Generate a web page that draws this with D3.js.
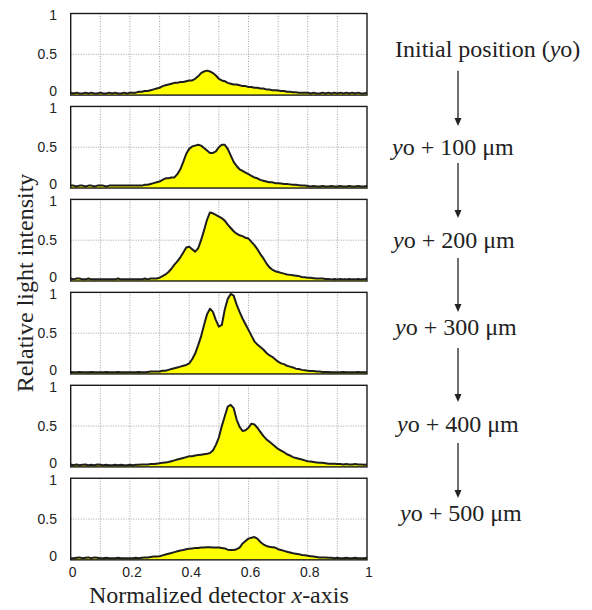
<!DOCTYPE html>
<html>
<head>
<meta charset="utf-8">
<script src="https://cdn.jsdelivr.net/npm/d3@7"></script>
<style>
  html, body { margin: 0; padding: 0; background: #fff; }
  svg { display: block; }
  .serif { font-family: "Liberation Serif", "DejaVu Serif", "Times New Roman", serif; }
  .sans { font-family: "Liberation Sans", Arial, Helvetica, sans-serif; }
</style>
</head>
<body>
<div id="chart"></div>
<script>
// ---------- data ----------
const panelLabels = ["Initial position", "yo + 100 μm", "yo + 200 μm", "yo + 300 μm", "yo + 400 μm", "yo + 500 μm"];
const xTickLabels = [0, 0.2, 0.4, 0.6, 0.8, 1];
const yTickLabels = [0, 0.5, 1];
const xGridValues = [0.1, 0.2, 0.3, 0.4, 0.5, 0.6, 0.7, 0.8, 0.9];
const xSamples = d3.range(0, 101).map(i => i / 100);

const intensity0 = [
  0.03,0.02,0.03,0.02,0.02,0.03,0.02,0.03,0.02,0.02,
  0.03,0.02,0.02,0.03,0.02,0.03,0.02,0.02,0.03,0.02,
  0.03,0.03,0.03,0.04,0.04,0.05,0.05,0.06,0.07,0.08,
  0.09,0.11,0.12,0.13,0.14,0.15,0.15,0.16,0.16,0.17,
  0.18,0.18,0.20,0.23,0.27,0.29,0.30,0.29,0.27,0.24,
  0.20,0.18,0.17,0.15,0.14,0.13,0.13,0.12,0.11,0.11,
  0.10,0.10,0.09,0.09,0.08,0.08,0.07,0.07,0.06,0.06,
  0.055,0.05,0.05,0.04,0.04,0.035,0.035,0.03,0.03,0.03,
  0.03,0.02,0.03,0.02,0.02,0.03,0.02,0.03,0.02,0.03,
  0.02,0.03,0.02,0.03,0.02,0.03,0.02,0.03,0.02,0.02,0.03
];
const intensity100 = [
  0.03,0.03,0.02,0.03,0.03,0.02,0.03,0.03,0.02,0.03,
  0.03,0.03,0.02,0.03,0.03,0.03,0.03,0.03,0.03,0.03,
  0.03,0.03,0.03,0.03,0.03,0.04,0.04,0.05,0.06,0.07,
  0.08,0.10,0.12,0.12,0.13,0.13,0.17,0.23,0.32,0.42,
  0.48,0.51,0.52,0.53,0.52,0.49,0.46,0.43,0.43,0.45,
  0.50,0.53,0.53,0.48,0.40,0.32,0.27,0.23,0.21,0.19,
  0.17,0.15,0.13,0.12,0.10,0.09,0.08,0.07,0.07,0.06,
  0.06,0.055,0.05,0.05,0.045,0.04,0.04,0.035,0.03,0.03,
  0.025,0.02,0.025,0.02,0.02,0.025,0.02,0.02,0.025,0.02,
  0.02,0.025,0.02,0.02,0.025,0.02,0.02,0.025,0.02,0.02,0.025
];
const intensity200 = [
  0.03,0.02,0.03,0.03,0.02,0.02,0.03,0.02,0.02,0.02,
  0.02,0.02,0.02,0.02,0.02,0.02,0.03,0.02,0.02,0.02,
  0.02,0.02,0.02,0.02,0.02,0.03,0.02,0.03,0.03,0.03,
  0.04,0.06,0.08,0.11,0.15,0.20,0.24,0.29,0.35,0.41,
  0.42,0.39,0.36,0.40,0.50,0.62,0.75,0.84,0.83,0.81,
  0.79,0.77,0.74,0.69,0.65,0.61,0.58,0.56,0.55,0.53,
  0.52,0.48,0.44,0.39,0.33,0.28,0.22,0.17,0.14,0.12,
  0.11,0.10,0.09,0.08,0.075,0.07,0.065,0.06,0.05,0.045,
  0.04,0.04,0.035,0.03,0.03,0.03,0.025,0.025,0.02,0.025,
  0.02,0.025,0.02,0.02,0.025,0.02,0.02,0.025,0.02,0.02,0.03
];
const intensity300 = [
  0.025,0.02,0.02,0.025,0.02,0.02,0.02,0.025,0.02,0.02,
  0.02,0.02,0.025,0.02,0.02,0.02,0.025,0.02,0.02,0.02,
  0.02,0.02,0.02,0.025,0.02,0.02,0.025,0.03,0.03,0.03,
  0.03,0.04,0.04,0.05,0.06,0.07,0.08,0.09,0.10,0.11,
  0.13,0.18,0.25,0.35,0.46,0.60,0.73,0.80,0.76,0.66,
  0.58,0.60,0.79,0.92,0.98,0.96,0.85,0.76,0.68,0.61,
  0.54,0.47,0.40,0.36,0.33,0.30,0.26,0.23,0.21,0.18,
  0.15,0.13,0.12,0.10,0.09,0.08,0.065,0.06,0.05,0.045,
  0.04,0.035,0.035,0.03,0.03,0.025,0.025,0.025,0.02,0.02,
  0.02,0.02,0.025,0.02,0.02,0.02,0.02,0.025,0.02,0.02,0.02
];
const intensity400 = [
  0.03,0.02,0.03,0.02,0.025,0.03,0.02,0.025,0.02,0.03,
  0.025,0.02,0.025,0.02,0.02,0.025,0.02,0.025,0.02,0.02,
  0.025,0.02,0.025,0.025,0.03,0.03,0.03,0.035,0.035,0.04,
  0.045,0.05,0.055,0.06,0.07,0.08,0.09,0.10,0.11,0.12,
  0.13,0.13,0.14,0.145,0.15,0.155,0.16,0.17,0.20,0.27,
  0.36,0.50,0.62,0.74,0.76,0.72,0.58,0.49,0.44,0.45,
  0.48,0.53,0.52,0.48,0.43,0.38,0.34,0.31,0.28,0.25,
  0.22,0.20,0.18,0.155,0.14,0.12,0.11,0.10,0.09,0.08,
  0.07,0.065,0.06,0.055,0.05,0.05,0.045,0.04,0.04,0.04,
  0.035,0.035,0.03,0.035,0.03,0.03,0.035,0.03,0.03,0.025,0.03
];
const intensity500 = [
  0.02,0.02,0.025,0.03,0.02,0.025,0.03,0.02,0.03,0.025,
  0.02,0.02,0.025,0.02,0.02,0.02,0.025,0.02,0.02,0.02,
  0.02,0.02,0.025,0.02,0.025,0.03,0.03,0.035,0.04,0.04,
  0.045,0.055,0.065,0.075,0.085,0.095,0.105,0.115,0.12,0.13,
  0.135,0.14,0.145,0.145,0.15,0.15,0.155,0.155,0.15,0.15,
  0.15,0.145,0.14,0.125,0.12,0.12,0.13,0.15,0.20,0.23,
  0.26,0.27,0.28,0.26,0.22,0.19,0.17,0.16,0.155,0.15,
  0.13,0.12,0.11,0.10,0.09,0.08,0.075,0.07,0.06,0.055,
  0.05,0.045,0.04,0.035,0.03,0.03,0.03,0.025,0.025,0.02,
  0.025,0.02,0.02,0.025,0.02,0.02,0.025,0.02,0.02,0.02,0.025
];
const seriesList = [intensity0, intensity100, intensity200, intensity300, intensity400, intensity500];

// ---------- layout ----------
const W = 592, H = 610;
const left = 70.7, right = 367;
const firstTop = 13.5, panelStep = 92.95, panelH = 81.6;

const svg = d3.select("#chart").append("svg").attr("width", W).attr("height", H);

const x = d3.scaleLinear().domain([0, 1]).range([left, right]);

seriesList.forEach((vals, i) => {
  const top = firstTop + i * panelStep;
  const y = d3.scaleLinear().domain([0, 1]).range([top + panelH, top]);
  const g = svg.append("g");
  const pts = xSamples.map((xv, k) => [xv, vals[k]]);

  g.selectAll("line.vg").data(xGridValues).enter().append("line")
    .attr("x1", d => x(d)).attr("x2", d => x(d))
    .attr("y1", top).attr("y2", top + panelH)
    .attr("stroke", "#8c8c8c").attr("stroke-width", 0.8)
    .attr("stroke-dasharray", "1,1.5");
  g.append("line")
    .attr("x1", left).attr("x2", right)
    .attr("y1", y(0.5)).attr("y2", y(0.5))
    .attr("stroke", "#8c8c8c").attr("stroke-width", 0.8)
    .attr("stroke-dasharray", "1,1.5");

  g.append("path").datum(pts)
    .attr("d", d3.area().x(d => x(d[0])).y0(y(0)).y1(d => y(d[1])))
    .attr("fill", "#ffff00");
  g.append("path").datum(pts)
    .attr("d", d3.line().x(d => x(d[0])).y(d => y(d[1])))
    .attr("fill", "none").attr("stroke", "#1e1e1e").attr("stroke-width", 2)
    .attr("stroke-linejoin", "round");

  g.append("rect")
    .attr("x", left).attr("y", top)
    .attr("width", right - left).attr("height", panelH)
    .attr("fill", "none").attr("stroke", "#1a1a1a").attr("stroke-width", 1.4);

  g.selectAll("text.yt").data(yTickLabels).enter().append("text")
    .attr("class", "sans")
    .attr("x", 57)
    .attr("y", d => y(d) + (d === 1 ? 3 : d === 0 ? -3 : 1))
    .attr("text-anchor", "end")
    .attr("dominant-baseline", "middle")
    .attr("font-size", 14)
    .attr("fill", "#222")
    .text(d => d);

  if (i === seriesList.length - 1) {
    g.selectAll("text.xt").data(xTickLabels).enter().append("text")
      .attr("class", "sans")
      .attr("x", d => x(d) + 2)
      .attr("y", 577)
      .attr("text-anchor", "middle")
      .attr("font-size", 14)
      .attr("fill", "#222")
      .text(d => d);
  }
});

const xt = svg.append("text")
  .attr("class", "serif")
  .attr("x", (left + right) / 2).attr("y", 603)
  .attr("text-anchor", "middle")
  .attr("font-size", 24).attr("fill", "#222");
xt.append("tspan").text("Normalized detector ");
xt.append("tspan").attr("font-style", "italic").text("x");
xt.append("tspan").text("-axis");

svg.append("text")
  .attr("class", "serif")
  .attr("transform", "translate(33,283) rotate(-90)")
  .attr("text-anchor", "middle")
  .attr("font-size", 24).attr("fill", "#222")
  .text("Relative light intensity");

const labelPos = [[395, 57], [392, 155], [393, 248], [395, 335], [397, 432], [400, 521]];
panelLabels.forEach((lab, i) => {
  const t = svg.append("text")
    .attr("class", "serif")
    .attr("x", labelPos[i][0]).attr("y", labelPos[i][1])
    .attr("font-size", 24).attr("fill", "#222");
  if (i === 0) {
    t.append("tspan").text(lab + " (");
    t.append("tspan").attr("font-style", "italic").text("y");
    t.append("tspan").text("o)");
  } else {
    t.append("tspan").attr("font-style", "italic").text("y");
    t.append("tspan").text(lab.slice(1));
  }
});

const arrows = [[70.7, 126], [163, 218], [258, 312], [348, 402], [443, 498]];
const ax = 458;
arrows.forEach(([y1, y2]) => {
  svg.append("line")
    .attr("x1", ax).attr("x2", ax).attr("y1", y1).attr("y2", y2 - 6)
    .attr("stroke", "#222").attr("stroke-width", 1.3);
  svg.append("path")
    .attr("d", `M${ax - 3.5},${y2 - 8} L${ax + 3.5},${y2 - 8} L${ax},${y2} Z`)
    .attr("fill", "#222");
});
</script>
</body>
</html>
